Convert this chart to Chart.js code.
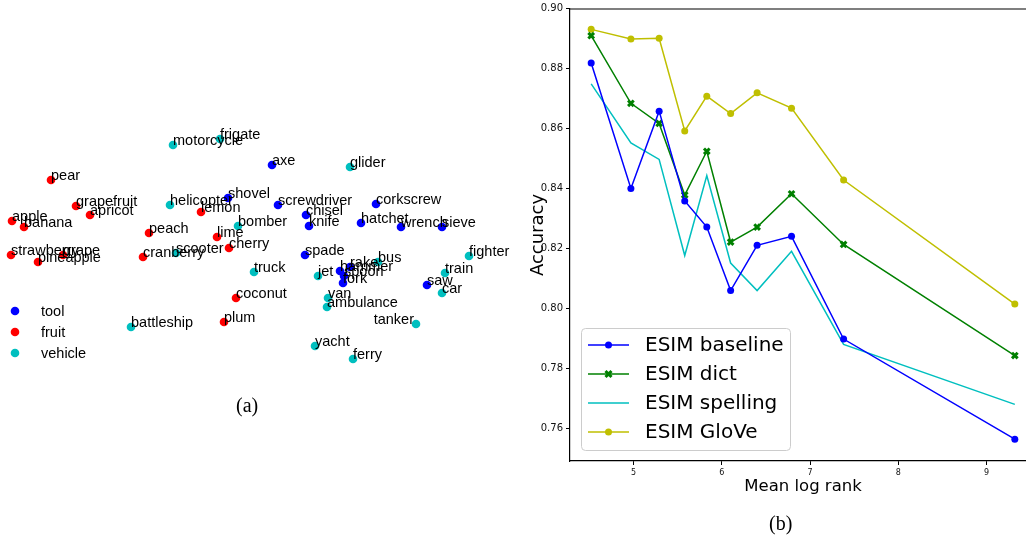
<!DOCTYPE html>
<html><head><meta charset="utf-8">
<script src="https://cdn.jsdelivr.net/npm/chart.js@4/dist/chart.umd.min.js"></script>
<style>
html,body{margin:0;padding:0;background:#fff;overflow:hidden;}
#wrap{position:relative;width:1026px;height:541px;overflow:hidden;background:#fff;}
#left{position:absolute;left:0;top:0;width:510px;height:540px;}
#right{position:absolute;left:500px;top:0;width:560px;height:541px;}
.cap{position:absolute;font-family:"Liberation Serif","Times New Roman",serif;font-size:20px;line-height:20px;color:#000;}
</style>
</head><body>
<div id="wrap">
  <div id="left"><canvas id="cl"></canvas></div>
  <div id="right"><canvas id="cr"></canvas></div>
  <div class="cap" style="left:236px;top:395px;">(a)</div>
  <div class="cap" style="left:769px;top:513px;">(b)</div>
</div>
<script>
// ---------- Panel (a): 2-D embedding of words ----------
const toolNames = ['axe','shovel','screwdriver','corkscrew','chisel','knife','hatchet','wrench','sieve','spade','hammer','rake','spoon','fork','saw'];
const toolX = [4.4,-4.4,5.6,25.2,11.2,11.8,22.2,30.2,38.4,11.0,18.0,20.0,18.8,18.6,35.4];
const toolY = [21.0,14.4,13.0,13.2,11.0,8.8,9.4,8.6,8.6,3.0,-0.2,0.6,-1.2,-2.6,-3.0];

const fruitNames = ['pear','grapefruit','apricot','apple','banana','lemon','peach','lime','strawberry','grape','pineapple','cranberry','cherry','coconut','plum'];
const fruitX = [-39.8,-34.8,-32.0,-47.6,-45.2,-9.8,-20.2,-6.6,-47.8,-37.4,-42.4,-21.4,-4.2,-2.8,-5.2];
const fruitY = [18.0,12.8,11.0,9.8,8.6,11.6,7.4,6.6,3.0,3.0,1.6,2.6,4.4,-5.6,-10.4];

const vehicleNames = ['motorcycle','frigate','glider','helicopter','bomber','scooter','fighter','bus','truck','jet','train','car','van','ambulance','battleship','tanker','yacht','ferry'];
const vehicleX = [-15.4,-6.0,20.0,-16.0,-2.4,-14.8,43.8,25.6,0.8,13.6,39.0,38.4,15.6,15.4,-23.8,33.2,13.0,20.6];
const vehicleY = [25.0,26.2,20.6,13.0,8.8,3.4,2.8,1.6,-0.4,-1.2,-0.6,-4.6,-5.6,-7.4,-11.4,-10.8,-15.2,-17.8];

const groupNames = ['tool','fruit','vehicle'];
const rightAlignedLabels = ['tanker'];

// ---------- Panel (b): accuracy vs mean log rank ----------
const meanLogRank = [4.52,4.97,5.29,5.58,5.83,6.10,6.40,6.79,7.38,9.32];
const esimBaseline = [0.8819,0.8400,0.8658,0.8358,0.8271,0.8059,0.8210,0.8240,0.7897,0.7563];
const esimDict     = [0.8910,0.8684,0.8617,0.8378,0.8524,0.8221,0.8271,0.8382,0.8213,0.7842];
const esimSpelling = [0.8749,0.8552,0.8497,0.8176,0.8443,0.8151,0.8059,0.8190,0.7879,0.7679];
const esimGlove    = [0.8931,0.8899,0.8901,0.8592,0.8708,0.8650,0.8719,0.8668,0.8428,0.8014];
const xTicks = [5,6,7,8,9];
const yTicks = [0.76,0.78,0.80,0.82,0.84,0.86,0.88,0.90];
const seriesNames = ['ESIM baseline','ESIM dict','ESIM spelling','ESIM GloVe'];

const BLUE='#0000ff', RED='#ff0000', CYAN='#00bfbf', GREEN='#008000', YEL='#bfbf00';

function pts(xs, ys){ return xs.map((x,i)=>({x:x, y:ys[i]})); }

// ---- left chart ----
const labelPlugin = {
  id:'wordLabels',
  afterDatasetsDraw(chart){
    const ctx = chart.ctx;
    ctx.save();
    ctx.font = '14.5px "Liberation Sans", Arial, sans-serif';
    ctx.fillStyle = '#000';
    ctx.textBaseline = 'alphabetic';
    chart.data.datasets.forEach((ds, di) => {
      const meta = chart.getDatasetMeta(di);
      meta.data.forEach((el, i) => {
        const name = ds.names[i];
        if (rightAlignedLabels.includes(name)) {
          ctx.textAlign = 'right';
          ctx.fillText(name, el.x - 2, el.y);
        } else {
          ctx.textAlign = 'left';
          ctx.fillText(name, el.x, el.y);
        }
      });
    });
    // legend
    const cols = [BLUE, RED, CYAN];
    const ys = [311, 332, 353];
    ctx.textAlign = 'left';
    ctx.textBaseline = 'middle';
    groupNames.forEach((g, i) => {
      ctx.beginPath();
      ctx.fillStyle = cols[i];
      ctx.arc(15, ys[i], 4.3, 0, Math.PI*2);
      ctx.fill();
      ctx.fillStyle = '#000';
      ctx.fillText(g, 41, ys[i] + 1);
    });
    ctx.restore();
  }
};

new Chart(document.getElementById('cl'), {
  type:'scatter',
  data:{ datasets:[
    {label:'tool', names:toolNames, data:pts(toolX,toolY), backgroundColor:BLUE, borderWidth:0, pointRadius:4.3},
    {label:'fruit', names:fruitNames, data:pts(fruitX,fruitY), backgroundColor:RED, borderWidth:0, pointRadius:4.3},
    {label:'vehicle', names:vehicleNames, data:pts(vehicleX,vehicleY), backgroundColor:CYAN, borderWidth:0, pointRadius:4.3}
  ]},
  options:{
    responsive:true, maintainAspectRatio:false, animation:false,
    layout:{padding:0, autoPadding:false},
    plugins:{legend:{display:false}, tooltip:{enabled:false}},
    scales:{
      x:{type:'linear', min:-50, max:52, display:false},
      y:{type:'linear', min:-54, max:54, display:false}
    }
  },
  plugins:[labelPlugin]
});

// ---- right chart ----
const framePlugin = {
  id:'frameAndLegend',
  afterDraw(chart){
    const {ctx, chartArea:a} = chart;
    ctx.save();
    ctx.strokeStyle = '#000';
    ctx.lineWidth = 1.2;
    ctx.beginPath();
    ctx.moveTo(a.left, a.top); ctx.lineTo(a.right, a.top);
    ctx.lineTo(a.right, a.bottom);
    ctx.stroke();
    // legend box
    const bx = 81, by = 328, bw = 209, bh = 122;
    ctx.fillStyle = 'rgba(255,255,255,0.8)';
    ctx.strokeStyle = '#cccccc';
    ctx.lineWidth = 1;
    ctx.beginPath();
    if (ctx.roundRect) ctx.roundRect(bx+0.5, by+0.5, bw, bh, 4); else ctx.rect(bx+0.5, by+0.5, bw, bh);
    ctx.fill(); ctx.stroke();
    const rowY = [345, 374, 403, 432];
    const cols = [BLUE, GREEN, CYAN, YEL];
    const marks = ['circle','x',null,'circle'];
    ctx.font = '20px "DejaVu Sans", sans-serif';
    ctx.textBaseline = 'middle';
    ctx.textAlign = 'left';
    seriesNames.forEach((n, i) => {
      const y = rowY[i];
      ctx.strokeStyle = cols[i];
      ctx.lineWidth = 1.5;
      ctx.beginPath(); ctx.moveTo(88, y); ctx.lineTo(129, y); ctx.stroke();
      if (marks[i] === 'circle') {
        ctx.fillStyle = cols[i];
        ctx.beginPath(); ctx.arc(108.5, y, 3.5, 0, Math.PI*2); ctx.fill();
      } else if (marks[i] === 'x') {
        ctx.lineWidth = 3;
        ctx.beginPath();
        ctx.moveTo(105.5, y-3); ctx.lineTo(111.5, y+3);
        ctx.moveTo(105.5, y+3); ctx.lineTo(111.5, y-3);
        ctx.stroke();
      }
      ctx.fillStyle = '#000';
      ctx.fillText(n, 145, y + 1);
    });
    ctx.restore();
  }
};

const tickFontY = {family:'"DejaVu Sans", sans-serif', size:10};
const tickFontX = {family:'"DejaVu Sans", sans-serif', size:8};

new Chart(document.getElementById('cr'), {
  type:'line',
  data:{ datasets:[
    {label:seriesNames[0], data:pts(meanLogRank,esimBaseline), borderColor:BLUE, backgroundColor:BLUE, borderWidth:1.5, pointStyle:'circle', pointRadius:3.5, pointBorderWidth:0, tension:0},
    {label:seriesNames[1], data:pts(meanLogRank,esimDict), borderColor:GREEN, backgroundColor:GREEN, borderWidth:1.5, pointStyle:'crossRot', pointRadius:4, pointBorderWidth:3, tension:0},
    {label:seriesNames[2], data:pts(meanLogRank,esimSpelling), borderColor:CYAN, backgroundColor:CYAN, borderWidth:1.5, pointRadius:0, tension:0},
    {label:seriesNames[3], data:pts(meanLogRank,esimGlove), borderColor:YEL, backgroundColor:YEL, borderWidth:1.5, pointStyle:'circle', pointRadius:3.5, pointBorderWidth:0, tension:0}
  ]},
  options:{
    responsive:true, maintainAspectRatio:false, animation:false,
    layout:{padding:{top:8, right:24, left:0, bottom:0}},
    plugins:{legend:{display:false}, tooltip:{enabled:false}},
    scales:{
      x:{
        type:'linear', min:4.28, max:9.56,
        afterBuildTicks(s){ s.ticks = xTicks.map(v=>({value:v})); },
        afterFit(s){ s.height = 80; },
        ticks:{font:tickFontX, color:'#111', padding:3, maxRotation:0, callback:v=>String(v)},
        grid:{display:true, drawOnChartArea:false, drawTicks:true, tickLength:4, color:'#000', lineWidth:1},
        border:{display:true, color:'#000', width:1.2},
        title:{display:true, text:'Mean log rank', color:'#000', font:{family:'"DejaVu Sans", sans-serif', size:16.5}, padding:{top:0,bottom:44}}
      },
      y:{
        type:'linear', min:0.749, max:0.8999,
        afterBuildTicks(s){ s.ticks = yTicks.map(v=>({value:v})); },
        afterFit(s){ s.width = 70; },
        ticks:{font:tickFontY, color:'#111', padding:3, callback:v=>Number(v).toFixed(2)},
        grid:{display:true, drawOnChartArea:false, drawTicks:true, tickLength:4, color:'#000', lineWidth:1},
        border:{display:true, color:'#000', width:1.2},
        title:{display:true, text:'Accuracy', color:'#000', font:{family:'"DejaVu Sans", sans-serif', size:18}, padding:{top:28,bottom:0}}
      }
    }
  },
  plugins:[framePlugin]
});
</script>
</body></html>
